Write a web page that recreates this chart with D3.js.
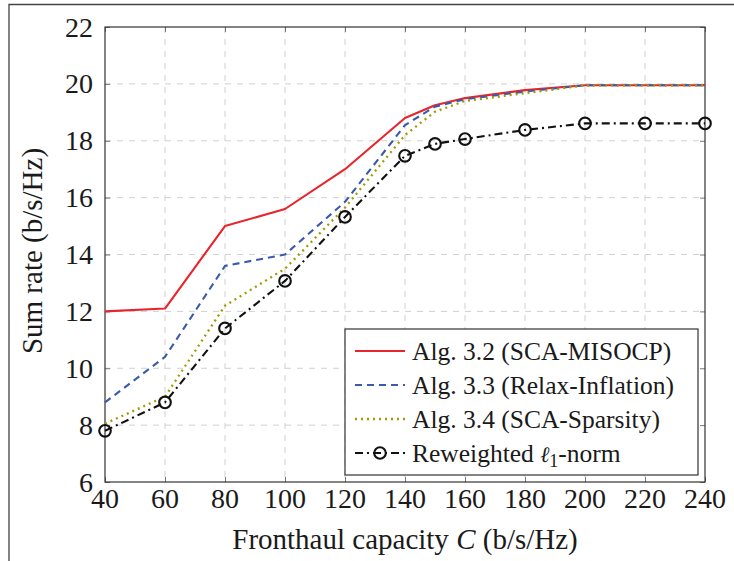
<!DOCTYPE html>
<html><head><meta charset="utf-8"><script src="https://cdn.jsdelivr.net/npm/d3@7"></script></head>
<body style="margin:0">
<svg id="c" width="734" height="561"></svg>
<script>
// ---- data ----
const capacity = [40, 60, 80, 100, 120, 140, 150, 160, 180, 200, 220, 240];
const scaMisocp = [12.0, 12.1, 15.0, 15.6, 17.0, 18.8, 19.25, 19.5, 19.78, 19.95, 19.95, 19.95];
const relaxInflation = [8.8, 10.4, 13.6, 14.0, 15.85, 18.55, 19.2, 19.46, 19.73, 19.95, 19.95, 19.95];
const scaSparsity = [8.05, 9.0, 12.2, 13.5, 15.65, 18.2, 19.02, 19.4, 19.67, 19.95, 19.95, 19.95];
const reweighted = [7.8, 8.8, 11.4, 13.07, 15.32, 17.47, 17.89, 18.06, 18.38, 18.61, 18.61, 18.61];
const xTicks = [40, 60, 80, 100, 120, 140, 160, 180, 200, 220, 240];
const yTicks = [6, 8, 10, 12, 14, 16, 18, 20, 22];
const legendLabels = ["Alg. 3.2 (SCA-MISOCP)", "Alg. 3.3 (Relax-Inflation)", "Alg. 3.4 (SCA-Sparsity)", "Reweighted "];

const TXT = "#1a1a1a";
const svg = d3.select("#c");
const L = 105, R = 705, T = 27, B = 482;
const x = d3.scaleLinear().domain([40, 240]).range([L, R]);
const y = d3.scaleLinear().domain([6, 22]).range([B, T]);
// text helper mirroring the approach that renders serif correctly
function txt(parent, str, px) {
  return parent.append("text").attr("font-family", "Liberation Serif")
    .style("font-family", '"Liberation Serif"').style("font-size", px + "px")
    .attr("fill", TXT).text(str);
}

// outer frame (partial, as in reference)
svg.append("path").attr("d", "M9,561 V4.5 H734").attr("fill", "none")
  .attr("stroke", "#444").attr("stroke-width", 1.3);

// grid
const grid = svg.append("g");
grid.selectAll("line.gx").data(xTicks.slice(1, -1)).join("line")
  .attr("x1", d => x(d)).attr("x2", d => x(d)).attr("y1", T).attr("y2", B)
  .attr("stroke", "#d0d0d0").attr("stroke-width", 1).attr("stroke-dasharray", "6,6");
grid.selectAll("line.gy").data(yTicks.slice(1, -1)).join("line")
  .attr("x1", L).attr("x2", R).attr("y1", d => y(d)).attr("y2", d => y(d))
  .attr("stroke", "#d0d0d0").attr("stroke-width", 1).attr("stroke-dasharray", "6,6");

// axes with inward ticks (labels drawn separately from the same scales)
const tickLen = 5;
const axes = [
  svg.append("g").attr("transform", `translate(0,${B})`).call(d3.axisBottom(x).tickValues(xTicks).tickSize(-tickLen).tickFormat("")),
  svg.append("g").attr("transform", `translate(0,${T})`).call(d3.axisTop(x).tickValues(xTicks).tickSize(-tickLen).tickFormat("")),
  svg.append("g").attr("transform", `translate(${L},0)`).call(d3.axisLeft(y).tickValues(yTicks).tickSize(-tickLen).tickFormat("")),
  svg.append("g").attr("transform", `translate(${R},0)`).call(d3.axisRight(y).tickValues(yTicks).tickSize(-tickLen).tickFormat(""))
];
axes.forEach(a => {
  a.select(".domain").remove();
  a.selectAll(".tick line").attr("stroke", "#777").attr("stroke-width", 1);
  a.selectAll(".tick text").remove();
});
xTicks.forEach(v => {
  txt(svg, String(v), 28).attr("x", x(v)).attr("y", B + 26).attr("text-anchor", "middle");
});
yTicks.forEach(v => {
  txt(svg, String(v), 28).attr("x", L - 12).attr("y", y(v) + 9.5).attr("text-anchor", "end");
});

// plot box
svg.append("rect").attr("x", L).attr("y", T).attr("width", R - L).attr("height", B - T)
  .attr("fill", "none").attr("stroke", "#333").attr("stroke-width", 1.2);

// series
const series = [
  { vals: scaMisocp, color: "#e8242c", dash: null, w: 2.1 },
  { vals: relaxInflation, color: "#3a5bad", dash: "7,5", w: 2.1 },
  { vals: scaSparsity, color: "#a19a00", dash: "2,4", w: 2.3 },
  { vals: reweighted, color: "#111", dash: "8,4,2,4", w: 2.1, marker: true }
];
const line = d3.line().x(d => x(d[0])).y(d => y(d[1]));
const plot = svg.append("g");
series.forEach(s => {
  const pts = capacity.map((c, i) => [c, s.vals[i]]);
  plot.append("path").datum(pts).attr("d", line).attr("fill", "none")
    .attr("stroke", s.color).attr("stroke-width", s.w)
    .attr("stroke-dasharray", s.dash).attr("stroke-linejoin", "round");
  if (s.marker) {
    plot.selectAll(null).data(pts).join("circle")
      .attr("cx", d => x(d[0])).attr("cy", d => y(d[1])).attr("r", 5.8)
      .attr("fill", "none").attr("stroke", s.color).attr("stroke-width", 2.1);
  }
});

// legend
const lg = svg.append("g");
lg.append("rect").attr("x", 345).attr("y", 329).attr("width", 353).attr("height", 146)
  .attr("fill", "#fff").attr("stroke", "#333").attr("stroke-width", 1.2);
const rowY = [351, 385, 419, 453];
series.forEach((s, i) => {
  lg.append("line").attr("x1", 355).attr("x2", 405).attr("y1", rowY[i]).attr("y2", rowY[i])
    .attr("stroke", s.color).attr("stroke-width", s.w).attr("stroke-dasharray", s.dash);
  if (s.marker) {
    lg.append("circle").attr("cx", 380).attr("cy", rowY[i]).attr("r", 5.8)
      .attr("fill", "none").attr("stroke", s.color).attr("stroke-width", 2.1);
  }
  const t = txt(lg, legendLabels[i], 25.5).attr("x", 412).attr("y", rowY[i] + 8.5);
  if (i === 3) {
    t.append("tspan").attr("font-style", "italic").style("font-family", '"DejaVu Serif"').style("font-size", "22px").text("ℓ");
    t.append("tspan").style("font-size", "18px").attr("dy", 5).text("1");
    t.append("tspan").attr("dy", -5).text("-norm");
  }
});

// axis labels
const xl = txt(svg, "Fronthaul capacity ", 29).attr("x", 405).attr("y", 549).attr("text-anchor", "middle");
xl.append("tspan").attr("font-style", "italic").text("C");
xl.append("tspan").text(" (b/s/Hz)");
txt(svg, "Sum rate (b/s/Hz)", 29).attr("transform", "translate(42,251) rotate(-90)").attr("text-anchor", "middle");
</script></body></html>
